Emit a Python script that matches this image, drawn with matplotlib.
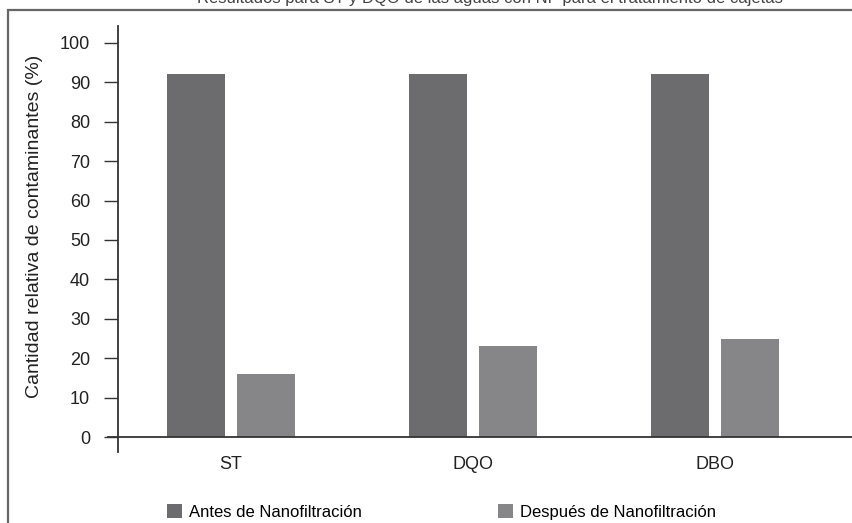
import matplotlib
matplotlib.use("Agg")
import matplotlib.pyplot as plt
from matplotlib.patches import Rectangle
import numpy as np

# datos del gráfico
categorias = ["ST", "DQO", "DBO"]
antes = [92, 92, 92]
despues = [16, 23, 25]
series = ["Antes de Nanofiltración", "Después de Nanofiltración"]
yticks = [0, 10, 20, 30, 40, 50, 60, 70, 80, 90, 100]

plt.rcParams['font.family'] = ['Liberation Sans', 'DejaVu Sans']

W, H = 853, 523
fig = plt.figure(figsize=(W / 100, H / 100), dpi=100)

# marco exterior (se corta en los bordes derecho e inferior)
fig.patches.append(Rectangle((8 / W, -0.1), 1.2, 1 - 10 / H + 0.1, transform=fig.transFigure,
                             fill=False, edgecolor="#666666", linewidth=1.6))

# título cortado en la parte superior (como en la imagen original)
fig.text(490 / W, 1 - 3 / H, "Resultados para ST y DQO de las aguas con NF para el tratamiento de cajetas",
         ha="center", va="baseline", fontsize=12, color="#444444")

ax = fig.add_axes([108 / W, (H - 452) / H, 1 - 108 / W, (452 - 26) / H])

x = np.arange(len(categorias))
ancho = 0.24
sep = 0.05
ax.bar(x - (ancho + sep) / 2, antes, ancho, color="#6c6c6f", label=series[0])
ax.bar(x + (ancho + sep) / 2, despues, ancho, color="#868689", label=series[1])

ax.set_xlim(-0.508, 2.57)
ax.set_ylim(-3.8, 104.3)

for s in ["top", "right"]:
    ax.spines[s].set_visible(False)
ax.spines["left"].set_position(("data", -0.467))
ax.spines["bottom"].set_position(("data", 0))
for s in ["left", "bottom"]:
    ax.spines[s].set_color("#333333")
    ax.spines[s].set_linewidth(1.3)

ax.set_yticks(yticks)
ax.tick_params(axis="y", length=10, width=1, color="#333333", labelsize=13, pad=10, labelcolor="#222222")
ax.set_xticks(x)
ax.set_xticklabels(categorias)
ax.tick_params(axis="x", length=0, labelsize=13, pad=14, labelcolor="#222222")

fig.text(35 / W, (H - 226) / H, "Cantidad relativa de contaminantes (%)", rotation=90,
         ha="center", va="center", fontsize=14, color="#222222")

# leyenda
fig.legend(loc="center left", bbox_to_anchor=(167 / W, (H - 512) / H), ncol=2, frameon=False,
           fontsize=12, handlelength=0.9, handleheight=0.9, handletextpad=0.4,
           columnspacing=8.2, borderaxespad=0, borderpad=0)

fig.savefig("out.png", dpi=100)
